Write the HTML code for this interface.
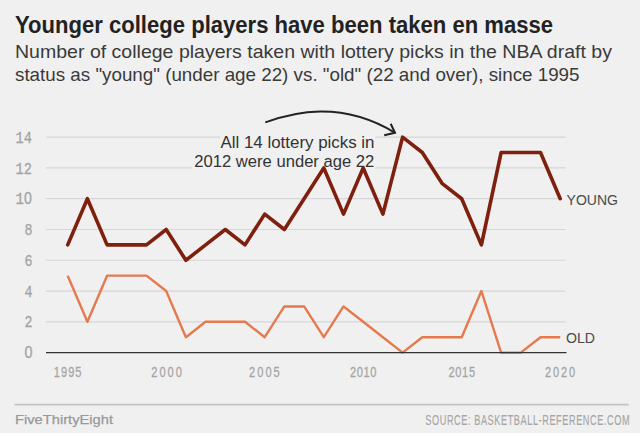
<!DOCTYPE html>
<html><head><meta charset="utf-8">
<style>
html,body{margin:0;padding:0;background:#f0f0f0;}
body{width:640px;height:436px;overflow:hidden;position:relative;}
svg{display:block;}
.t{font-family:"Liberation Sans",Arial,sans-serif;}
.g{stroke:#d6d6d6;stroke-width:1.2;}
.ym{font-family:"Liberation Mono",monospace;font-size:16.6px;fill:#a3a3a3;stroke:#a3a3a3;stroke-width:0.3px;}
.xl{font-family:"Liberation Sans",Arial,sans-serif;font-size:15.4px;fill:#a5a5a5;stroke:#a5a5a5;stroke-width:0.3px;}
</style></head>
<body>
<svg width="640" height="436" viewBox="0 0 640 436">
<rect x="0" y="0" width="640" height="436" fill="#f0f0f0"/>
<rect x="0" y="433" width="640" height="3" fill="#ffffff"/>
<text class="t" x="15" y="32.6" font-size="23" font-weight="bold" fill="#222" textLength="538" lengthAdjust="spacingAndGlyphs">Younger college players have been taken en masse</text>
<text class="t" x="15" y="58.2" font-size="18.6" fill="#3a3a3a" textLength="597" lengthAdjust="spacingAndGlyphs">Number of college players taken with lottery picks in the NBA draft by</text>
<text class="t" x="15" y="80.8" font-size="18.6" fill="#3a3a3a" textLength="564.5" lengthAdjust="spacingAndGlyphs">status as "young" (under age 22) vs. "old" (22 and over), since 1995</text>
<line x1="46" x2="565.5" y1="321.82" y2="321.82" class="g"/>
<line x1="46" x2="565.5" y1="291.04" y2="291.04" class="g"/>
<line x1="46" x2="565.5" y1="260.27" y2="260.27" class="g"/>
<line x1="46" x2="565.5" y1="229.49" y2="229.49" class="g"/>
<line x1="46" x2="565.5" y1="198.71" y2="198.71" class="g"/>
<line x1="46" x2="565.5" y1="167.93" y2="167.93" class="g"/>
<line x1="46" x2="565.5" y1="137.15" y2="137.15" class="g"/>

<rect x="561.5" y="192" width="60" height="15" fill="#f0f0f0"/>
<rect x="220.2" y="131" width="155.3" height="19" fill="#f0f0f0"/>
<rect x="192" y="150" width="183.5" height="21" fill="#f0f0f0"/>
<text x="24.5" y="358.20" class="ym" textLength="8" lengthAdjust="spacingAndGlyphs"><tspan style="font-family:Liberation Sans,sans-serif">0</tspan></text>
<text x="24.5" y="327.42" class="ym" textLength="8" lengthAdjust="spacingAndGlyphs">2</text>
<text x="24.5" y="296.64" class="ym" textLength="8" lengthAdjust="spacingAndGlyphs">4</text>
<text x="24.5" y="265.87" class="ym" textLength="8" lengthAdjust="spacingAndGlyphs">6</text>
<text x="24.5" y="235.09" class="ym" textLength="8" lengthAdjust="spacingAndGlyphs">8</text>
<text x="15.6" y="204.31" class="ym" textLength="16.4" lengthAdjust="spacingAndGlyphs">1<tspan style="font-family:Liberation Sans,sans-serif">0</tspan></text>
<text x="15.6" y="173.53" class="ym" textLength="16.4" lengthAdjust="spacingAndGlyphs">12</text>
<text x="15.6" y="142.75" class="ym" textLength="16.4" lengthAdjust="spacingAndGlyphs">14</text>

<text transform="translate(53.70,377.1) scale(0.72,1)" class="xl" textLength="38.68" lengthAdjust="spacing">1995</text>
<text transform="translate(151.30,377.1) scale(0.72,1)" class="xl" textLength="42.50" lengthAdjust="spacing">2000</text>
<text transform="translate(249.10,377.1) scale(0.72,1)" class="xl" textLength="42.50" lengthAdjust="spacing">2005</text>
<text transform="translate(349.90,377.1) scale(0.72,1)" class="xl" textLength="37.01" lengthAdjust="spacing">2010</text>
<text transform="translate(448.40,377.1) scale(0.72,1)" class="xl" textLength="37.08" lengthAdjust="spacing">2015</text>
<text transform="translate(545.00,377.1) scale(0.72,1)" class="xl" textLength="41.94" lengthAdjust="spacing">2020</text>

<polyline points="67.70,275.66 87.40,321.82 107.10,275.66 126.80,275.66 146.50,275.66 166.20,291.04 185.90,337.21 205.60,321.82 225.30,321.82 245.00,321.82 264.70,337.21 284.40,306.43 304.10,306.43 323.80,337.21 343.50,306.43 363.20,321.82 382.90,337.21 402.60,352.60 422.30,337.21 442.00,337.21 461.70,337.21 481.40,291.04 501.10,352.60 520.80,352.60 540.50,337.21 560.20,337.21" fill="none" stroke="#e57a4e" stroke-width="2.4" stroke-linejoin="round"/>
<polyline points="67.70,244.88 87.40,198.71 107.10,244.88 126.80,244.88 146.50,244.88 166.20,229.49 185.90,260.27 205.60,244.88 225.30,229.49 245.00,244.88 264.70,214.10 284.40,229.49 304.10,198.71 323.80,167.93 343.50,214.10 363.20,167.93 382.90,214.10 402.60,137.15 422.30,152.54 442.00,183.32 461.70,198.71 481.40,244.88 501.10,152.54 520.80,152.54 540.50,152.54 560.20,198.71" fill="none" stroke="#7f1f0e" stroke-width="3.6" stroke-linejoin="round" stroke-linecap="round"/>
<line x1="46" x2="566.5" y1="352.60" y2="352.60" stroke="#333" stroke-width="1.3"/>
<text class="t" x="220.5" y="147.5" font-size="16.3" fill="#333" textLength="154" lengthAdjust="spacingAndGlyphs">All 14 lottery picks in</text>
<text class="t" x="194.3" y="166.6" font-size="16.3" fill="#333" textLength="180" lengthAdjust="spacingAndGlyphs">2012 were under age 22</text>
<path d="M265.3,122.4 C292.8,112.65 340.5,99.86 395,132.8" fill="none" stroke="#222" stroke-width="2"/>
<path d="M390.7,123.8 L395,132.8 L384.2,135.2" fill="none" stroke="#222" stroke-width="2"/>
<text class="t" x="566.6" y="204.6" font-size="15" fill="#4a4a4a" textLength="51.4" lengthAdjust="spacingAndGlyphs">YOUNG</text>
<text class="t" x="566" y="343.2" font-size="14.7" fill="#4a4a4a" textLength="29" lengthAdjust="spacingAndGlyphs">OLD</text>
<line x1="14.6" x2="628.7" y1="404.6" y2="404.6" stroke="#c2c2c2" stroke-width="1.6"/>
<text class="t" x="15" y="423.8" font-size="13.6" fill="#999" stroke="#999" stroke-width="0.25" textLength="98" lengthAdjust="spacingAndGlyphs">FiveThirtyEight</text>
<text class="xl" transform="translate(425.3,424.8) scale(0.66,1)" style="font-size:13.9px;stroke-width:0.12px" textLength="309.55" lengthAdjust="spacing">SOURCE: BASKETBALL-REFERENCE.COM</text>
</svg>
</body></html>
